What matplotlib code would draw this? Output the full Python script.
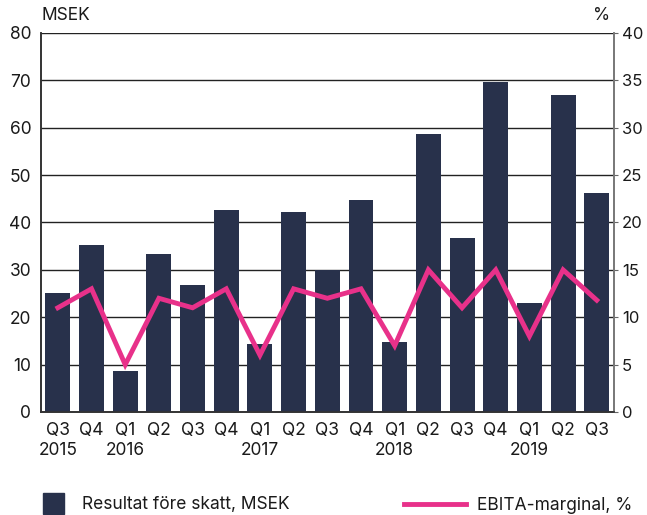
import matplotlib.pyplot as plt
from matplotlib.patches import Patch
from matplotlib.lines import Line2D

quarters = ["Q3", "Q4", "Q1", "Q2", "Q3", "Q4", "Q1", "Q2", "Q3",
            "Q4", "Q1", "Q2", "Q3", "Q4", "Q1", "Q2", "Q3"]
years = ["2015", "", "2016", "", "", "", "2017", "", "",
         "", "2018", "", "", "", "2019", "", ""]
resultat = [25.2, 35.3, 8.7, 33.4, 26.9, 42.7, 14.4, 42.3, 30.0,
            44.8, 14.8, 58.7, 36.7, 69.7, 23.1, 66.9, 46.3]
ebita = [11.0, 13.0, 5.0, 12.0, 11.0, 13.0, 6.0, 13.0, 12.0,
         13.0, 7.0, 15.0, 11.0, 15.0, 8.0, 15.0, 11.8]

bar_color = "#28314b"
line_color = "#e8318a"
txt_color = "#1a1a1a"
fs = 12.5

plt.rcParams["font.family"] = ["Inter", "DejaVu Sans"]

fig = plt.figure(figsize=(6.47, 5.15), dpi=100)
ax = fig.add_axes([0.0634, 0.2, 0.885, 0.736])
ax2 = ax.twinx()

x = list(range(len(resultat)))
ax.bar(x, resultat, width=0.74, color=bar_color, zorder=3)
ax2.plot(x, ebita, color=line_color, lw=3.5, solid_joinstyle="miter", zorder=4)

ax.set_xlim(-0.5, len(x) - 0.5)
ax.set_ylim(0, 80)
ax2.set_ylim(0, 40)
ax.set_yticks(range(0, 81, 10))
ax2.set_yticks(range(0, 41, 5))
ax.grid(axis="y", color="#222222", lw=1.0, zorder=0)
ax.set_axisbelow(True)

ax.set_xticks(x)
ax.set_xticklabels([q + "\n" + y for q, y in zip(quarters, years)],
                   fontsize=fs, color=txt_color, linespacing=1.25)
ax.tick_params(axis="x", length=0, pad=7)
ax.tick_params(axis="y", length=0, labelsize=fs, labelcolor=txt_color, pad=7)
ax2.tick_params(axis="y", length=3, labelsize=12, labelcolor=txt_color, pad=3,
                color="#666666")

for a in (ax, ax2):
    a.spines["top"].set_visible(False)
    a.spines["left"].set_color("#333333")
    a.spines["bottom"].set_color("#333333")
    a.spines["right"].set_color("#777777")
    for s in ("left", "right", "bottom"):
        a.spines[s].set_linewidth(1.2)

fig.text(0.064, 0.953, "MSEK", fontsize=fs, color=txt_color, ha="left", va="bottom")
fig.text(0.943, 0.953, "%", fontsize=fs, color=txt_color, ha="right", va="bottom")

fig.legend(handles=[Patch(color=bar_color, label="Resultat före skatt, MSEK")],
           loc="lower left", bbox_to_anchor=(0.043, -0.028), frameon=False,
           fontsize=fs, handlelength=1.2, handleheight=1.5, handletextpad=1.0,
           labelcolor=txt_color)
fig.legend(handles=[Line2D([], [], color=line_color, lw=3.5, label="EBITA-marginal, %")],
           loc="lower left", bbox_to_anchor=(0.60, -0.028), frameon=False,
           fontsize=fs, handlelength=3.6, handletextpad=0.6, labelcolor=txt_color)

fig.savefig("out.png", dpi=100)
